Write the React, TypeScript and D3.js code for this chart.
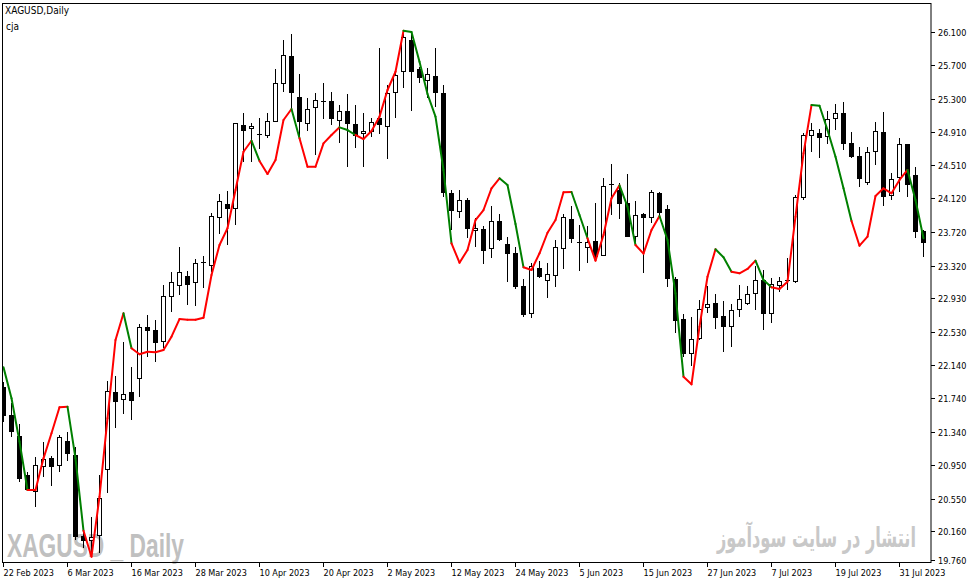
import React, { useLayoutEffect, useRef, useState } from 'react';
import * as d3 from 'd3';

// XAGUSD daily bars, 22 Feb 2023 .. 3 Aug 2023 (116 bars)
const opens = [
  21.880, 21.543, 21.297, 20.830, 20.624, 20.921, 21.028, 20.937, 21.234, 21.068,
  20.105, 20.045, 20.108, 20.886, 21.813, 21.718, 21.813, 21.968, 22.586, 22.554,
  22.408, 22.950, 23.080, 23.196, 23.116, 23.352, 23.318, 23.889, 24.052, 23.989,
  24.991, 24.940, 24.883, 24.856, 25.030, 25.475, 25.807, 25.324, 24.999, 25.189,
  25.280, 25.272, 25.042, 25.157, 25.003, 24.887, 24.904, 25.070, 24.970, 25.368,
  25.617, 26.001, 25.653, 25.518, 25.573, 25.368, 24.179, 23.953, 24.096, 23.734,
  23.751, 23.513, 23.846, 23.572, 23.466, 23.077, 22.740, 23.287, 23.136, 23.199,
  23.513, 23.870, 23.594, 23.532, 23.612, 23.437, 24.292, 24.218, 24.067, 23.663,
  23.929, 23.882, 24.179, 23.989, 23.156, 22.681, 22.265, 22.443, 22.812, 22.871,
  22.720, 22.593, 22.791, 22.859, 22.978, 23.148, 22.740, 23.080, 23.137, 23.121,
  24.127, 24.864, 24.892, 24.845, 25.058, 25.130, 24.773, 24.622, 24.298, 24.673,
  24.911, 24.147, 24.357, 24.761, 24.396, 23.731,
];
const highs = [
  21.936, 21.686, 21.433, 20.869, 21.047, 21.219, 21.056, 21.305, 21.345, 21.166,
  20.212, 20.331, 20.830, 21.951, 22.007, 22.415, 22.117, 22.621, 22.732, 22.673,
  23.089, 23.247, 23.544, 23.255, 23.398, 23.433, 23.941, 24.170, 24.206, 25.018,
  25.137, 25.018, 25.070, 25.130, 25.656, 26.001, 26.069, 25.593, 25.308, 25.368,
  25.486, 25.387, 25.228, 25.356, 25.228, 25.130, 25.070, 25.902, 25.466, 25.605,
  26.081, 26.100, 25.684, 25.665, 25.902, 25.466, 24.218, 24.218, 24.119, 23.882,
  23.790, 24.028, 23.933, 23.656, 23.540, 23.156, 23.347, 23.378, 23.347, 23.624,
  23.933, 24.028, 23.802, 23.790, 24.067, 24.364, 24.527, 24.298, 24.408, 24.087,
  23.948, 24.218, 24.198, 24.040, 23.180, 22.744, 22.712, 22.910, 23.080, 22.982,
  22.898, 22.859, 23.089, 23.077, 23.315, 23.267, 23.168, 23.187, 23.406, 24.159,
  24.899, 25.018, 24.940, 25.161, 25.240, 25.261, 24.911, 24.733, 24.733, 25.030,
  25.142, 24.417, 24.833, 24.765, 24.488, 23.742,
];
const lows = [
  21.464, 21.285, 20.750, 20.640, 20.453, 20.810, 20.703, 20.869, 21.000, 20.057,
  19.962, 19.879, 19.899, 20.620, 21.392, 21.555, 21.484, 21.757, 22.236, 22.177,
  22.336, 22.771, 22.970, 22.851, 22.839, 23.057, 23.247, 23.695, 23.564, 23.802,
  24.554, 24.554, 24.705, 24.833, 25.025, 25.387, 25.189, 24.833, 24.919, 24.634,
  25.062, 24.991, 24.773, 24.495, 24.721, 24.495, 24.852, 24.880, 24.583, 25.078,
  25.427, 25.161, 25.494, 25.315, 25.208, 24.138, 23.742, 23.882, 23.644, 23.544,
  23.335, 23.406, 23.615, 23.121, 23.037, 22.712, 22.693, 23.168, 22.938, 23.068,
  23.279, 23.591, 23.259, 23.347, 23.406, 23.433, 23.921, 23.873, 23.656, 23.552,
  23.228, 23.829, 23.901, 23.068, 22.515, 22.236, 22.126, 22.435, 22.759, 22.566,
  22.296, 22.355, 22.712, 22.850, 22.791, 22.554, 22.633, 23.005, 23.029, 23.109,
  24.099, 24.673, 24.602, 24.761, 24.931, 24.693, 24.595, 24.257, 24.277, 24.515,
  24.028, 24.099, 24.198, 24.131, 23.644, 23.418,
];
const closes = [
  21.531, 21.345, 20.782, 20.652, 20.949, 21.017, 20.929, 21.282, 21.076, 20.096,
  20.045, 20.093, 20.553, 21.829, 21.701, 21.789, 21.713, 22.586, 22.545, 22.403,
  22.958, 23.121, 23.240, 23.092, 23.347, 23.358, 23.909, 24.087, 23.989, 25.011,
  24.923, 24.975, 24.877, 25.042, 25.486, 25.819, 25.368, 25.030, 25.177, 25.284,
  25.264, 25.062, 25.157, 24.999, 24.860, 24.919, 25.030, 24.991, 25.368, 25.585,
  26.033, 25.624, 25.546, 25.593, 25.375, 24.179, 23.972, 24.096, 23.751, 23.763,
  23.496, 23.846, 23.624, 23.454, 23.068, 22.732, 23.318, 23.180, 23.216, 23.537,
  23.893, 23.632, 23.588, 23.596, 23.425, 24.266, 24.280, 24.052, 23.663, 23.917,
  23.889, 24.191, 23.948, 23.156, 22.664, 22.265, 22.443, 22.800, 22.859, 22.693,
  22.593, 22.791, 22.919, 22.978, 23.148, 22.740, 23.097, 23.140, 23.143, 24.131,
  24.872, 24.931, 24.840, 25.058, 25.130, 24.761, 24.614, 24.345, 24.673, 24.923,
  24.131, 24.345, 24.761, 24.273, 23.722, 23.584,
];

// cja indicator line and its colour per bar (r = red, g = green)
const cja = [
  22.110, 21.742, 21.226, 20.652, 20.652, 21.028, 21.326, 21.635, 21.642, 21.028,
  20.168, 19.859, 20.572, 21.504, 22.435, 22.752, 22.336, 22.265, 22.296, 22.289,
  22.316, 22.474, 22.684, 22.676, 22.676, 22.700, 23.208, 23.564, 23.763, 24.218,
  24.673, 24.804, 24.563, 24.408, 24.575, 25.050, 25.181, 24.833, 24.495, 24.495,
  24.773, 24.872, 24.963, 24.931, 24.872, 24.824, 24.919, 25.090, 25.407, 25.624,
  26.112, 26.096, 25.743, 25.359, 25.090, 24.456, 23.584, 23.354, 23.505, 23.861,
  23.980, 24.238, 24.357, 24.277, 23.814, 23.299, 23.267, 23.466, 23.710, 23.861,
  24.191, 24.194, 23.921, 23.644, 23.378, 23.683, 24.119, 24.273, 24.020, 23.564,
  23.461, 23.742, 23.909, 23.624, 22.990, 21.999, 21.908, 22.593, 23.187, 23.513,
  23.418, 23.247, 23.228, 23.279, 23.378, 23.148, 23.061, 23.041, 23.128, 23.901,
  24.654, 25.228, 25.220, 24.931, 24.614, 24.238, 23.850, 23.556, 23.663, 24.147,
  24.238, 24.179, 24.337, 24.456, 24.099, 23.644,
];
const cjaColors = (
  'ggggrrrrrg' + 'grrrrrgrrr' + 'rrrrrrrrrr' + 'rrgrrrrgrr' + 'rrrggrrrrr' +
  'rggggggrrr' + 'rrrgggrrrr' + 'rrggrrrrgg' + 'rrrgggrrrr' + 'ggrrrggrrr' +
  'rrgggggrrr' + 'rrrrgg'
).split('');

const priceLabels = [
  '26.100', '25.700', '25.300', '24.910', '24.510', '24.120', '23.720', '23.320',
  '22.930', '22.530', '22.140', '21.740', '21.340', '20.950', '20.550', '20.160', '19.760',
];
const dateLabels = [
  '22 Feb 2023', '6 Mar 2023', '16 Mar 2023', '28 Mar 2023', '10 Apr 2023',
  '20 Apr 2023', '2 May 2023', '12 May 2023', '24 May 2023', '5 Jun 2023',
  '15 Jun 2023', '27 Jun 2023', '7 Jul 2023', '19 Jul 2023', '31 Jul 2023',
];
const dateLabelBars = [0, 8, 16, 24, 32, 40, 48, 56, 64, 72, 80, 88, 96, 104, 112];

const W = 972;
const H = 584;
const frame = { left: 2.5, top: 3.5, right: 931, bottom: 562.5 };
const axisFont = '"DejaVu Sans Condensed", "DejaVu Sans", sans-serif';
const RED = '#ff0000';
const GREEN = '#008000';

// text squeezed horizontally to a given width, starting at x
const FitText: React.FC<{
  x: number; y: number; width: number; fontSize: number; fontFamily: string;
  fontWeight?: string; fill: string; children: string;
}> = ({ x, y, width, fontSize, fontFamily, fontWeight, fill, children }) => {
  const ref = useRef<SVGTextElement>(null);
  const [sx, setSx] = useState(1);
  useLayoutEffect(() => {
    if (!ref.current) return;
    const w = ref.current.getComputedTextLength();
    if (w > 0) setSx(width / w);
  }, [width, children]);
  return (
    <text ref={ref} transform={`translate(${x},${y}) scale(${sx},1)`} x={0} y={0}
      fontSize={fontSize} fontFamily={fontFamily} fontWeight={fontWeight} fill={fill}>
      {children}
    </text>
  );
};

const App: React.FC = () => {
  const x = d3.scaleLinear().domain([0, opens.length - 1]).range([3.5, 923.5]);
  const y = d3.scaleLinear().domain([19.76, 26.1]).range([565, 31.7]);

  const seg = d3.line<[number, number]>().x(d => d[0]).y(d => d[1]);

  const candles = opens.map((o, i) => {
    const c = closes[i];
    const cx = x(i);
    const top = Math.round(y(Math.max(o, c)));
    const bot = Math.round(y(Math.min(o, c)));
    const up = c >= o;
    let body;
    if (bot - top < 2) {
      body = <rect x={cx - 2.5} y={top} width={5} height={1} fill="#000" />;
    } else if (up) {
      body = <rect x={cx - 2} y={top + 0.5} width={4} height={bot - top - 1} fill="#fff" stroke="#000" strokeWidth={1} />;
    } else {
      body = <rect x={cx - 2.5} y={top} width={5} height={bot - top} fill="#000" />;
    }
    return (
      <g key={i}>
        <line x1={cx} x2={cx} y1={Math.round(y(highs[i]))} y2={Math.round(y(lows[i]))} stroke="#000" strokeWidth={1} />
        {body}
      </g>
    );
  });

  // each segment takes the colour of the bar it ends on
  const segments = cja.slice(1).map((v, k) => {
    const i = k + 1;
    const pts: [number, number][] = [[x(i - 1), y(cja[i - 1])], [x(i), y(v)]];
    return (
      <path key={i} d={seg(pts) || ''} fill="none"
        stroke={cjaColors[i] === 'r' ? RED : GREEN} strokeWidth={2} strokeLinecap="round" strokeLinejoin="round" />
    );
  });

  return (
    <svg width={W} height={H} style={{ position: 'absolute', left: 0, top: 0, background: '#fff' }}>
      <defs>
        <clipPath id="plot">
          <rect x={frame.left + 0.5} y={frame.top + 0.5} width={frame.right - frame.left - 1} height={frame.bottom - frame.top - 1} />
        </clipPath>
      </defs>
      <rect x={0} y={0} width={W} height={H} fill="#fff" />

      {/* watermarks */}
      <FitText x={7} y={557} width={177} fontSize={33} fontWeight="bold"
        fontFamily='"Liberation Sans", Arial, sans-serif' fill="#c0c0c0">XAGUSD _ Daily</FitText>
      <FitText x={717} y={547} width={199} fontSize={27} fontWeight="bold"
        fontFamily='"DejaVu Sans", sans-serif' fill="#c8c8c8">انتشار در سایت سودآموز</FitText>

      <g clipPath="url(#plot)">
        {candles}
        {segments}
      </g>

      <rect x={frame.left} y={frame.top} width={frame.right - frame.left} height={frame.bottom - frame.top}
        fill="none" stroke="#000" strokeWidth={1} />

      <text x={5} y={14} fontFamily={axisFont} fontSize={10} fill="#000">XAGUSD,Daily</text>
      <text x={6} y={30} fontFamily={axisFont} fontSize={10} fill="#000">cja</text>

      {priceLabels.map(l => {
        const ty = Math.min(Math.round(y(+l)), 560) + 0.5;
        return (
          <g key={l}>
            <line x1={frame.right} x2={frame.right + 4} y1={ty} y2={ty} stroke="#000" strokeWidth={1} />
            <text x={938} y={ty} dy="0.35em" fontFamily={axisFont} fontSize={9} fill="#000">{l}</text>
          </g>
        );
      })}

      {dateLabels.map((l, k) => {
        const tx = Math.round(x(dateLabelBars[k])) - 0.5;
        return (
          <g key={l}>
            <line x1={tx} x2={tx} y1={frame.bottom} y2={frame.bottom + 4.5} stroke="#000" strokeWidth={1} />
            <text x={tx} y={576} fontFamily={axisFont} fontSize={9} fill="#000">{l}</text>
          </g>
        );
      })}
    </svg>
  );
};

export default App;
